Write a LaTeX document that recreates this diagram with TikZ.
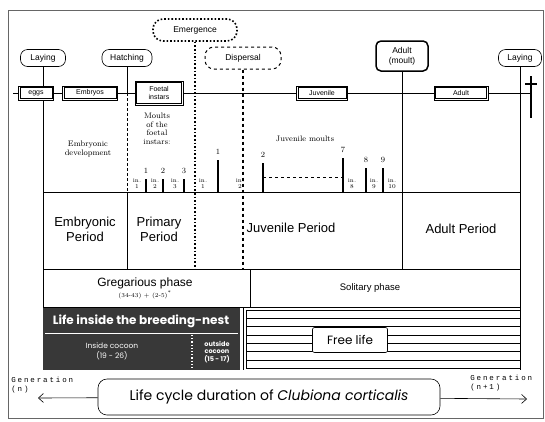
\documentclass[tikz,border=0pt]{standalone}
\usepackage{fontspec}
\setsansfont{Liberation Sans}
\setmonofont{Liberation Mono}
\newfontfamily\geofont{Poppins}
\newfontfamily\genfont{Liberation Mono}[LetterSpace=25]
\usetikzlibrary{arrows.meta}

\tikzset{
  event/.style={draw,rounded corners=7pt,fill=white,font=\sffamily\fontsize{8.5}{10}\selectfont,inner sep=2pt,minimum height=17pt},
  stage/.style={draw,fill=white,font=\sffamily\fontsize{7}{8}\selectfont,minimum height=14pt,inner sep=1pt},
  period/.style={font=\sffamily\fontsize{13}{15}\selectfont,align=center},
  note/.style={font=\fontsize{8}{8.5}\selectfont,align=center},
  instar/.style={font=\fontsize{6}{6}\selectfont,align=center,inner sep=0pt},
  moult/.style={line width=1.6pt}
}

\begin{document}
\begin{tikzpicture}[x=1pt,y=-1pt,line width=0.6pt]
\useasboundingbox (0,0) rectangle (545,421);
\draw[line width=0.4pt,black!60] (8,10) rectangle (543,418);
% events on top
\node[event,minimum width=45pt] (laying) at (43,58) {Laying};
\node[event,minimum width=50pt] (hatching) at (127,58) {Hatching};
\node[event,dotted,line width=1.6pt,minimum width=84pt,minimum height=22pt,rounded corners=10pt] (emergence) at (195,30) {Emergence};
\node[event,dashed,line width=1pt,minimum width=76pt,minimum height=22pt,rounded corners=9pt] (dispersal) at (243,58) {Dispersal};
\node[event,line width=1.5pt,minimum width=52pt,minimum height=30pt,rounded corners=5pt,align=center] (adultmoult) at (402,56) {Adult\\(moult)};
\node[event,minimum width=43pt] (laying2) at (520,58) {Laying};
% stages
\node[stage,minimum width=35pt] (eggs) at (36,93) {eggs};
\node[stage,minimum width=55pt] (embryos) at (90,93) {Embryos};
\node[stage,minimum width=48pt,minimum height=24pt,align=center] (foetal) at (159,93) {Foetal\\instars};
\node[stage,minimum width=51pt] (juvenile) at (322,93) {Juvenile};
\node[stage,minimum width=54pt] (adult) at (461,93) {Adult};
\foreach \s in {eggs,embryos,foetal,juvenile,adult}
  \draw[line width=0.4pt] ([shift={(1.7pt,-1.7pt)}]\s.north west) rectangle ([shift={(-1.7pt,1.7pt)}]\s.south east);
\coordinate (start) at (13,93);
\coordinate (death) at (531,93);
\draw (start) -- (eggs) -- (embryos) -- (foetal) -- (juvenile) -- (adult) -- (death);
\draw[line width=1.8pt] (531,76) -- (531,118);
\draw[line width=1.2pt] (525,84) -- (537,84);
% rows of the table
\coordinate (row1) at (0,192);
\coordinate (row2) at (0,269);
\coordinate (row3) at (0,307);
\coordinate (row4) at (0,370);
\draw (laying) -- (laying |- eggs.north);
\draw (laying |- eggs.south) -- (laying |- row4);
\draw (laying2) -- (laying2 |- row4);
\foreach \r in {row1,row2,row3}
  \draw (laying |- \r) -- (laying2 |- \r);
\draw (hatching) -- (hatching |- start);
\draw[densely dashed,line width=0.3pt] (hatching |- start) -- (hatching |- row1);
\draw (hatching |- row1) -- (hatching |- row2);
\draw[dotted,line width=1.6pt] (emergence) -- (emergence |- row2);
\draw[dashed,line width=1.2pt] (dispersal) -- (dispersal |- row2);
\draw[line width=0.8pt] (adultmoult) -- (adultmoult |- row2);
\draw (250,269) -- (250,307);
% moults
\node[note] (embdev) at (88,149) {Embryonic\\development};
\node[note] (foetmoults) at (157,129) {Moults\\of the\\foetal\\instars:};
\node[note] (juvmoults) at (305,139) {Juvenile moults};
\foreach \x/\y/\n in {146/179/1,163/179/2,184/179/3,218/160/1,263/163/2,343/158/7,366/168/8,383/168/9}
  \draw[moult] (\x,192) -- (\x,\y) node[note,above=1pt] (m\x) {\n};
\draw[dashed] (263,177) -- (343,177);
\foreach \x/\n in {137/1,155/2,175/3,203/1,240/2,352/8,374/9,392/10}
  \node[instar] (in\x) at (\x,184) {in.\\\n};
% periods
\node[period] (embper) at (85,229) {Embryonic\\Period};
\node[period] (primper) at (159,229) {Primary\\Period};
\node[period] (juvper) at (291,228) {Juvenile Period};
\node[period] (adultper) at (461,229) {Adult Period};
\node[period,font=\sffamily\fontsize{12}{13}\selectfont] (greg) at (145,283) {Gregarious phase};
\node[instar] (gregdays) at (145,295) {(34-43) + (2-5)\textsuperscript{*}};
\node[period,font=\sffamily\fontsize{9.5}{11}\selectfont] (solit) at (370,288) {Solitary phase};
% breeding nest
\fill[black!78] (43,308) rectangle (240,370);
\node[font=\geofont\bfseries\fontsize{12}{14}\selectfont,text=white] (nest) at (141,321) {Life inside the breeding-nest};
\draw[white,line width=0.8pt] (45,333) -- (238,333);
\draw[white,dotted,line width=1.2pt] (192,335) -- (192,369);
\node[font=\geofont\fontsize{7.5}{10}\selectfont,text=white,align=center] (incoc) at (112,351) {Inside cocoon\\(19 - 26)};
\node[font=\geofont\bfseries\fontsize{6.5}{7.5}\selectfont,text=white,align=center] (outcoc) at (217,352) {outside\\cocoon\\(15 - 17)};
% free life
\draw (243,308) -- (243,370);
\foreach \i in {0,...,7}
  \draw (246,{310+8.3*\i}) -- (520,{310+8.3*\i});
\draw (246,310) -- (246,368.1);
\node[draw,fill=white,rounded corners=2pt,minimum width=75pt,minimum height=25pt,font=\geofont\fontsize{12}{13}\selectfont] (free) at (350,340) {Free life};
% generations
\node[draw,rounded corners=9pt,minimum width=342pt,minimum height=36pt,font=\geofont\fontsize{14}{16}\selectfont] (title) at (269,397) {Life cycle duration of \textit{Clubiona corticalis}};
\coordinate (genl) at (38,398);
\coordinate (genr) at (527,399);
\draw[-{Straight Barb[length=5pt,width=9pt]}] (title) -- (genl);
\draw[-{Straight Barb[length=5pt,width=9pt]}] (title) -- (genr);
\node[font=\genfont\fontsize{7.5}{9}\selectfont,align=left,anchor=north west,inner sep=0pt] (gen0) at (11,377) {Generation\\(n)};
\node[font=\genfont\fontsize{7.5}{9}\selectfont,align=left,anchor=north west,inner sep=0pt] (gen1) at (470,375) {Generation\\(n+1)};
\end{tikzpicture}
\end{document}
